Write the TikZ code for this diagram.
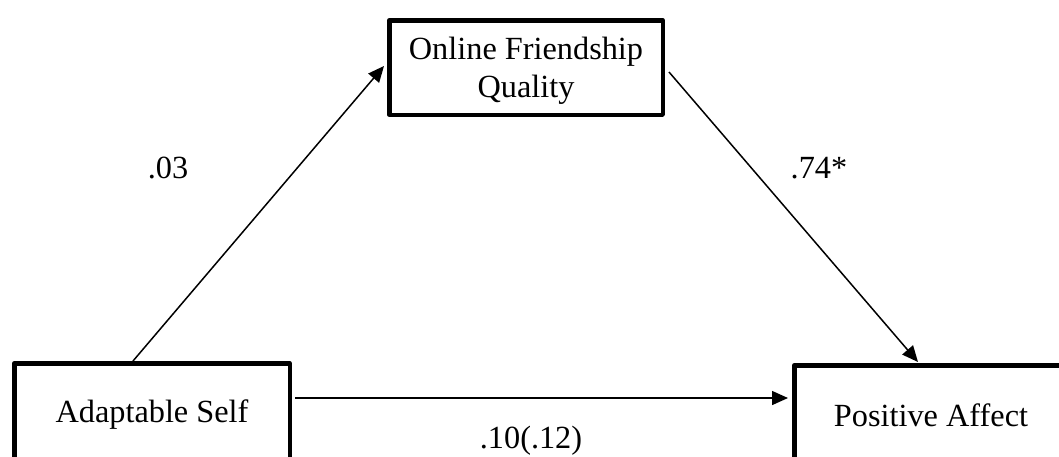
\documentclass[tikz,border=0pt]{standalone}
\usepackage{fontspec}
\setmainfont{Liberation Serif}
\usetikzlibrary{arrows.meta}
\begin{document}
\begin{tikzpicture}[x=1pt,y=-1pt,
  box/.style={draw,line width=4.5pt,line join=round,rectangle,inner sep=0pt,font=\fontsize{32.3}{38}\selectfont,align=center},
  pathline/.style={line width=1.5pt,-{Triangle[length=16pt,width=14pt]}},
  coef/.style={font=\fontsize{32.3}{38}\selectfont,anchor=base,inner sep=0pt}]
\useasboundingbox (0,0) rectangle (1059,456);
\clip (0,0) rectangle (1059,456);
\node[box,minimum width=275.5pt,minimum height=99.5pt,text depth=3.5pt] (as) at (152,413) {Adaptable Self};
\node[box,minimum width=273.5pt,minimum height=99.5pt] (pa) at (931,415) {Positive Affect};
\node[box,minimum width=273.5pt,minimum height=94.5pt,text depth=-5.5pt] (ofq) at (526,67.5) {Online Friendship\\Quality};
\draw[pathline] ([xshift=-19pt]as.north) -- ([xshift=-3pt,yshift=1.5pt]ofq.west);
\draw[pathline] ([xshift=4pt,yshift=-4.5pt]ofq.east) -- ([xshift=-13pt,yshift=1pt]pa.north);
\draw[pathline] ([xshift=3pt,yshift=15pt]as.east) -- ([xshift=-4pt,yshift=17pt]pa.west);
\node[coef] (c1) at (168,178) {.03};
\node[coef] (c2) at (819,178) {.74*};
\node[coef] (c3) at (531,448) {.10(.12)};
\end{tikzpicture}
\end{document}
